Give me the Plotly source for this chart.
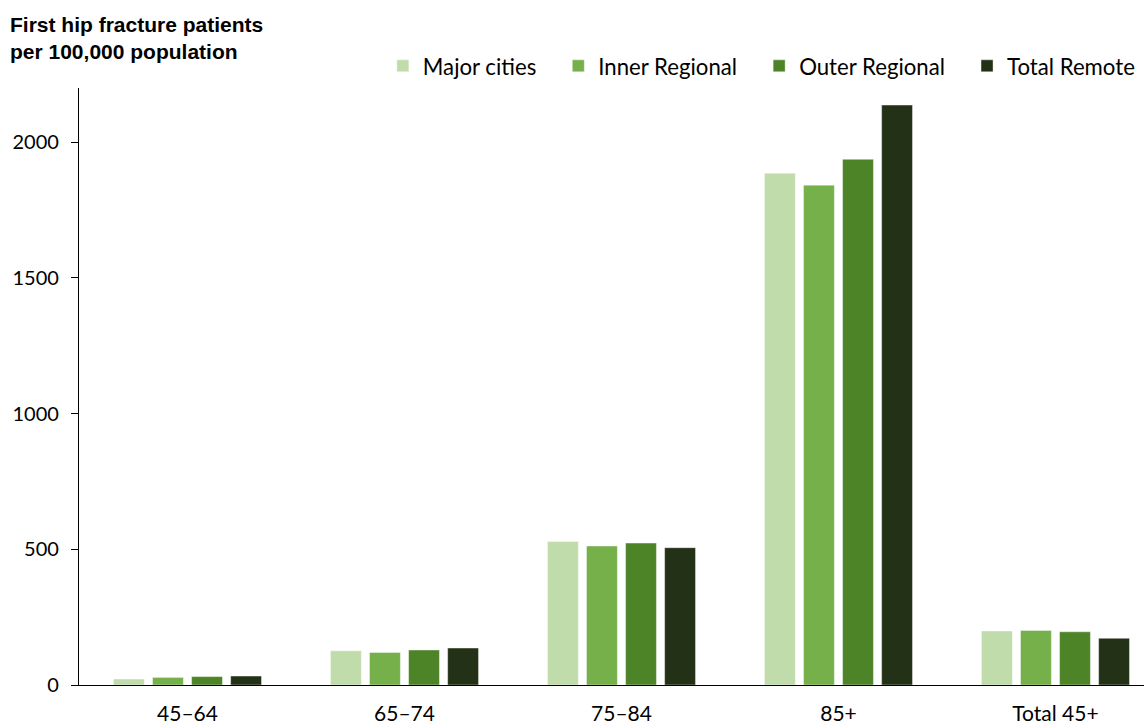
import plotly.graph_objects as go

categories = ["45–64", "65–74", "75–84", "85+", "Total 45+"]
series_names = ["Major cities", "Inner Regional", "Outer Regional", "Total Remote"]
major_cities = [22, 126, 529, 1886, 199]
inner_regional = [28, 120, 512, 1842, 201]
outer_regional = [31, 129, 523, 1937, 196]
total_remote = [33, 136, 506, 2137, 172]
colors = ["#c0dcab", "#76b04a", "#4e8428", "#233117"]
y_ticks = [0, 500, 1000, 1500, 2000]

PAD = "\u00a0" * 3  # invisible trailing space to widen legend entries (not on last)

fig = go.Figure()
all_vals = [major_cities, inner_regional, outer_regional, total_remote]
for i, (name, vals, col) in enumerate(zip(series_names, all_vals, colors)):
    label = name + (PAD if i < len(series_names) - 1 else "")
    fig.add_trace(go.Bar(x=categories, y=vals, name=label,
                         marker=dict(color=col, line=dict(color="rgba(255,255,255,0.5)", width=0.8))))

font_main = "Lato, 'Open Sans', sans-serif"
fig.update_layout(
    width=1144, height=724,
    margin=dict(l=79, r=0, t=88, b=39, autoexpand=False),
    plot_bgcolor="white", paper_bgcolor="white",
    barmode="group", bargap=0.28, bargroupgap=0.21,
    font=dict(family=font_main, size=21, color="#000"),
    title=dict(text="<b>First hip fracture patients<br>per 100,000 population</b>",
               x=10/1144, xref="container", xanchor="left",
               y=1-32/724, yref="container", yanchor="top",
               font=dict(family="Liberation Sans, Arial, sans-serif", size=21, color="#000")),
    legend=dict(orientation="h", x=0.2853, xanchor="left", y=1.037, yanchor="middle",
                font=dict(size=22.2), traceorder="normal", itemclick=False),
    showlegend=True,
)
fig.update_xaxes(range=[-0.5, 4.408], showline=True, linecolor="#000", linewidth=1.3,
                 ticks="", showgrid=False, ticklabelstandoff=10,
                 tickfont=dict(size=21))
fig.update_yaxes(range=[0, 2200], tickvals=y_ticks, showline=True, linecolor="#000",
                 linewidth=1.3, ticks="outside", ticklen=7, tickcolor="#000", tickwidth=1.3,
                 showgrid=False, zeroline=False, ticklabelstandoff=8,
                 tickfont=dict(size=20))
fig.write_html("out.html", config={"displayModeBar": False},
               post_script="document.body.style.margin='0';")
